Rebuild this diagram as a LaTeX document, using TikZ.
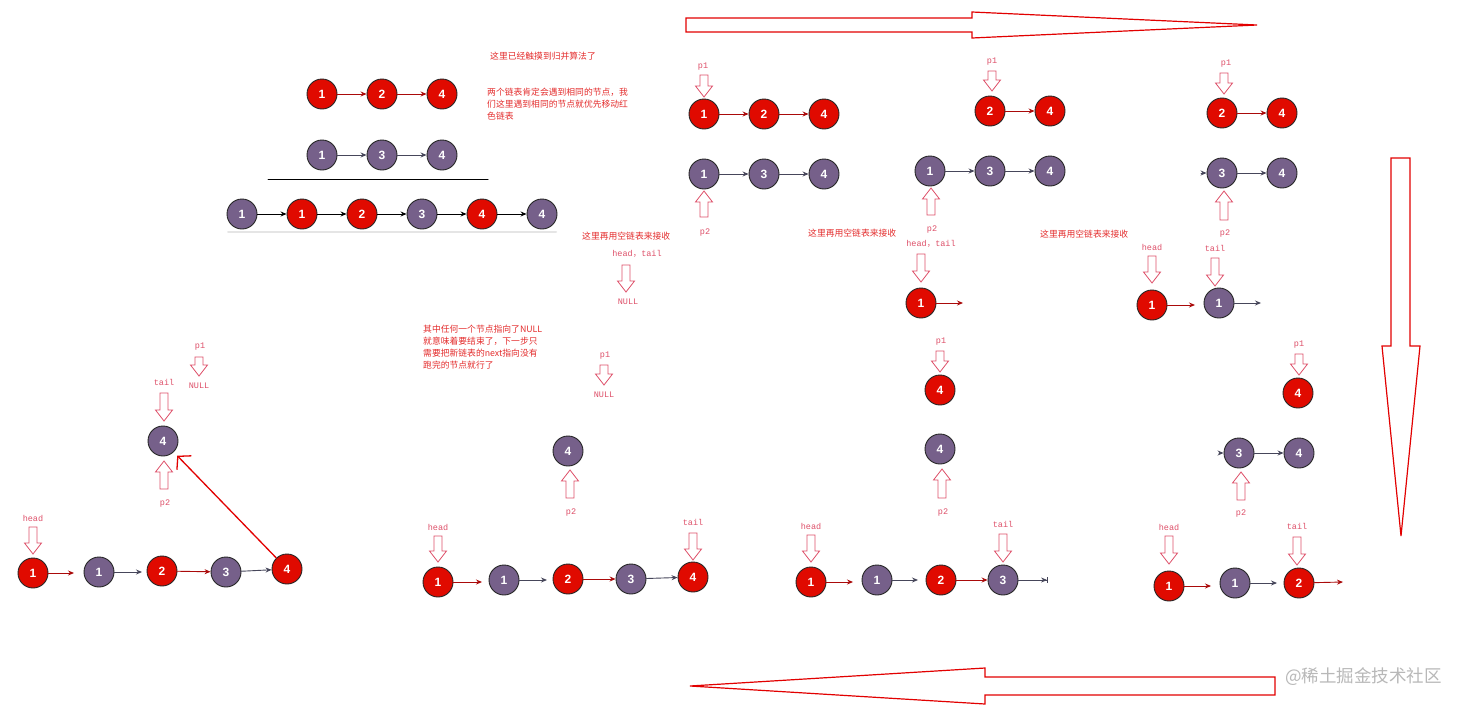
\documentclass[tikz,border=0pt]{standalone}
\usepackage{fontspec}
\setmainfont{Liberation Sans}
\newfontfamily\cjk{Noto Sans CJK SC}
\newfontfamily\mono{Liberation Mono}
\usetikzlibrary{arrows.meta}

\definecolor{nodered}{RGB}{224,10,0}
\definecolor{nodepur}{RGB}{118,96,138}
\definecolor{linkred}{RGB}{170,10,10}
\definecolor{linkgry}{RGB}{70,70,90}
\definecolor{notered}{RGB}{228,45,45}
\definecolor{ptrred}{RGB}{222,80,105}
\definecolor{bigred}{RGB}{226,0,0}

\tikzset{
  lnode/.style={circle,draw=black!85,line width=0.9pt,minimum size=30pt,inner sep=0pt,
    text=white,font=\bfseries\fontsize{12}{12}\selectfont},
  rn/.style={lnode,fill=nodered},
  pn/.style={lnode,fill=nodepur},
  rl/.style={->,draw=linkred,line width=0.9pt},
  gl/.style={->,draw=linkgry,line width=0.9pt},
  kl/.style={->,draw=black,line width=0.9pt},
  lab/.style={text=ptrred,font=\mono\fontsize{8.5}{8.5}\selectfont,inner sep=0pt},
  note/.style={text=notered,font=\cjk\fontsize{8.8}{11.8}\selectfont,inner sep=0pt,align=left},
  hol/.style={draw=ptrred,fill=white,line width=0.8pt,line join=miter},
  big/.style={draw=bigred,fill=white,line width=1.2pt,line join=miter},
  pics/pdn/.style={code={\draw[hol] (-4,0) -- (4,0) -- (4,{#1-11}) -- (8.5,{#1-11}) -- (0,#1)
      -- (-8.5,{#1-11}) -- (-4,{#1-11}) -- cycle;}},
  pics/pdn/.default=27,
  pics/pup/.style={code={\draw[hol] (0,0) -- (8.5,11) -- (4,11) -- (4,#1) -- (-4,#1)
      -- (-4,11) -- (-8.5,11) -- cycle;}},
  pics/pup/.default=27,
}

\begin{document}
\begin{tikzpicture}[x=1pt,y=-1pt,line join=round,line cap=round,>={Stealth[length=6pt,width=5pt]}]
\useasboundingbox[fill=white] (0,0) rectangle (1466,707);

% the three big arrows round the page
\draw[big] (686,18) -- (972,18) -- (972,12) -- (1257,25) -- (972,38) -- (972,32) -- (686,32) -- cycle;
\draw[big] (1391,158) -- (1410,158) -- (1410,346) -- (1420,346) -- (1401,536) -- (1382,346) -- (1391,346) -- cycle;
\draw[big] (1275,677) -- (985,677) -- (985,668) -- (690,686) -- (985,704) -- (985,695) -- (1275,695) -- cycle;

% panel a: the two lists and the merged one
\foreach \n/\x/\t in {ar1/322/1,ar2/382/2,ar3/442/4}
  \node[rn] (\n) at (\x,94) {\t};
\foreach \n/\x/\t in {ap1/322/1,ap2/382/3,ap3/442/4}
  \node[pn] (\n) at (\x,155) {\t};
\foreach \u/\v in {ar1/ar2,ar2/ar3} \draw[rl] (\u) -- (\v);
\foreach \u/\v in {ap1/ap2,ap2/ap3} \draw[gl] (\u) -- (\v);
\draw[line width=1pt] (268,179) -- (488,179);
\draw[black!10,line width=2pt] (228,232) -- (556,232);
\foreach \n/\x/\t/\s in {am1/242/1/pn,am2/302/1/rn,am3/362/2/rn,am4/422/3/pn,am5/482/4/rn,am6/542/4/pn}
  \node[\s] (\n) at (\x,214) {\t};
\foreach \u/\v in {am1/am2,am2/am3,am3/am4,am4/am5,am5/am6} \draw[kl] (\u) -- (\v);
\node[note,anchor=west] (an1) at (490,56) {这里已经触摸到归并算法了};
\node[note,anchor=north west] (an2) at (487,88) {两个链表肯定会遇到相同的节点，我\\们这里遇到相同的节点就优先移动红\\色链表};

% panel b
\node[lab] (bl1) at (703,67) {p1};
\pic at (704,75) {pdn=22};
\foreach \n/\x/\t in {br1/704/1,br2/764/2,br3/824/4}
  \node[rn] (\n) at (\x,114) {\t};
\foreach \n/\x/\t in {bp1/704/1,bp2/764/3,bp3/824/4}
  \node[pn] (\n) at (\x,174) {\t};
\foreach \u/\v in {br1/br2,br2/br3} \draw[rl] (\u) -- (\v);
\foreach \u/\v in {bp1/bp2,bp2/bp3} \draw[gl] (\u) -- (\v);
\pic at (704,191) {pup=26};
\node[lab] (bl2) at (705,233) {p2};
\node[note,anchor=west] (bn1) at (582,236) {这里再用空链表来接收};
\node[lab] (bl3) at (637,254) {head{\cjk，}tail};
\pic at (626,265) {pdn};
\node[lab] (bl4) at (628,302) {NULL};

% panel c
\node[lab] (cl1) at (992,62) {p1};
\pic at (992,71) {pdn=20};
\foreach \n/\x/\t in {cr1/990/2,cr2/1050/4}
  \node[rn] (\n) at (\x,111) {\t};
\foreach \n/\x/\t in {cp1/930/1,cp2/990/3,cp3/1050/4}
  \node[pn] (\n) at (\x,171) {\t};
\draw[rl] (cr1) -- (cr2);
\foreach \u/\v in {cp1/cp2,cp2/cp3} \draw[gl] (\u) -- (\v);
\pic at (931,188) {pup};
\node[lab] (cl2) at (932,230) {p2};
\node[note,anchor=west] (cn0) at (808,233) {这里再用空链表来接收};
\node[lab] (cl3) at (931,244) {head{\cjk，}tail};
\pic at (921,254) {pdn=28};
\node[rn] (cn1) at (921,303) {1};
\coordinate (cx1) at (963,303);
\draw[rl] (cn1) -- (cx1);

% panel d
\node[note,anchor=west] (dn0) at (1040,234) {这里再用空链表来接收};
\node[lab] (dl1) at (1226,64) {p1};
\pic at (1224,73) {pdn=21};
\node[rn] (dr1) at (1222,113) {2};
\node[rn] (dr2) at (1282,113) {4};
\draw[rl] (dr1) -- (dr2);
\node[pn] (dp1) at (1222,173) {3};
\node[pn] (dp2) at (1282,173) {4};
\coordinate (ds) at (1201,173);
\draw[gl] (ds) -- (dp1);
\draw[gl] (dp1) -- (dp2);
\pic at (1224,191) {pup=29};
\node[lab] (dl2) at (1225,234) {p2};
\node[lab] (dl3) at (1152,247) {head};
\pic at (1152,256) {pdn};
\node[lab] (dl4) at (1215,248) {tail};
\pic at (1215,258) {pdn=28};
\node[rn] (dn1) at (1152,305) {1};
\node[pn] (dn2) at (1219,303) {1};
\coordinate (dx1) at (1195,305);
\coordinate (dx2) at (1261,303);
\draw[rl] (dn1) -- (dx1);
\draw[gl] (dn2) -- (dx2);

% panel e
\node[lab] (el1) at (1299,345) {p1};
\pic at (1299,354) {pdn=21};
\node[rn] (er1) at (1298,393) {4};
\node[pn] (ep1) at (1239,453) {3};
\node[pn] (ep2) at (1299,453) {4};
\coordinate (es) at (1219,453);
\draw[gl] (es) -- (ep1);
\draw[gl] (ep1) -- (ep2);
\pic at (1241,472) {pup=28};
\node[lab] (el2) at (1241,514) {p2};
\node[lab] (el3) at (1169,527) {head};
\pic at (1169,536) {pdn=28};
\node[lab] (el4) at (1297,526) {tail};
\pic at (1297,537) {pdn=28};
\foreach \n/\x/\y/\t/\s in {en1/1169/586/1/rn,en2/1235/583/1/pn,en3/1299/583/2/rn}
  \node[\s] (\n) at (\x,\y) {\t};
\coordinate (ex1) at (1211,586);
\coordinate (ex2) at (1277,583);
\coordinate (ex3) at (1343,582);
\draw[rl] (en1) -- (ex1);
\draw[gl] (en2) -- (ex2);
\draw[rl] (en3) -- (ex3);

% panel f
\node[lab] (fl1) at (941,342) {p1};
\pic at (940,351) {pdn=21};
\node[rn] (fr1) at (940,390) {4};
\node[pn] (fp1) at (940,449) {4};
\pic at (942,469) {pup=29};
\node[lab] (fl2) at (943,513) {p2};
\node[lab] (fl3) at (811,526) {head};
\pic at (811,535) {pdn};
\node[lab] (fl4) at (1003,524) {tail};
\pic at (1003,534) {pdn=28};
\foreach \n/\x/\y/\t/\s in {fn1/811/582/1/rn,fn2/877/580/1/pn,fn3/941/580/2/rn,fn4/1003/580/3/pn}
  \node[\s] (\n) at (\x,\y) {\t};
\coordinate (fx1) at (853,582);
\coordinate (fx2) at (918,580);
\coordinate (fx4) at (1048,580);
\draw[rl] (fn1) -- (fx1);
\draw[gl] (fn2) -- (fx2);
\draw[rl] (fn3) -- (fn4);
\draw[gl,-{Stealth[length=6pt,width=5pt]Bar[width=6pt]}] (fn4) -- (fx4);

% panel g
\node[note,anchor=north west] (gn0) at (423,325) {其中任何一个节点指向了NULL\\就意味着要结束了，下一步只\\需要把新链表的next指向没有\\跑完的节点就行了};
\node[lab] (gl1) at (605,356) {p1};
\pic at (604,365) {pdn=20};
\node[lab] (gl0) at (604,395) {NULL};
\node[pn] (gp1) at (568,451) {4};
\pic at (570,470) {pup=28};
\node[lab] (gl2) at (571,513) {p2};
\node[lab] (gl3) at (438,527) {head};
\pic at (438,536) {pdn=26};
\node[lab] (gl4) at (693,522) {tail};
\pic at (693,533) {pdn};
\foreach \n/\x/\y/\t/\s in {gn1/438/582/1/rn,gn2/504/580/1/pn,gn3/568/579/2/rn,gn4/631/579/3/pn,gn5/693/577/4/rn}
  \node[\s] (\n) at (\x,\y) {\t};
\coordinate (gx1) at (482,582);
\coordinate (gx2) at (547,580);
\draw[rl] (gn1) -- (gx1);
\draw[gl] (gn2) -- (gx2);
\draw[rl] (gn3) -- (gn4);
\draw[gl] (gn4) -- (gn5);

% panel h
\node[lab] (hl1) at (200,347) {p1};
\pic at (199,357) {pdn=19};
\node[lab] (hl0) at (199,386) {NULL};
\node[lab] (hl4) at (164,382) {tail};
\pic at (164,393) {pdn=28};
\node[pn] (hp1) at (163,441) {4};
\pic at (164,461) {pup=28};
\node[lab] (hl2) at (165,504) {p2};
\node[lab] (hl3) at (33,518) {head};
\pic at (33,527) {pdn};
\foreach \n/\x/\y/\t/\s in {hn1/33/573/1/rn,hn2/99/572/1/pn,hn3/162/571/2/rn,hn4/226/572/3/pn,hn5/287/569/4/rn}
  \node[\s] (\n) at (\x,\y) {\t};
\coordinate (hx1) at (74,573);
\coordinate (hx2) at (142,572);
\draw[rl] (hn1) -- (hx1);
\draw[gl] (hn2) -- (hx2);
\draw[rl] (hn3) -- (hn4);
\draw[gl] (hn4) -- (hn5);
\draw[bigred,line width=1.3pt,-{Straight Barb[length=9pt,width=20pt]},shorten >=5pt] (hn5) -- (hp1);

\node[anchor=west,text=black!28,font=\cjk\fontsize{17.5}{17.5}\selectfont,inner sep=0pt] (wm) at (1285,677) {@稀土掘金技术社区};
\end{tikzpicture}
\end{document}
